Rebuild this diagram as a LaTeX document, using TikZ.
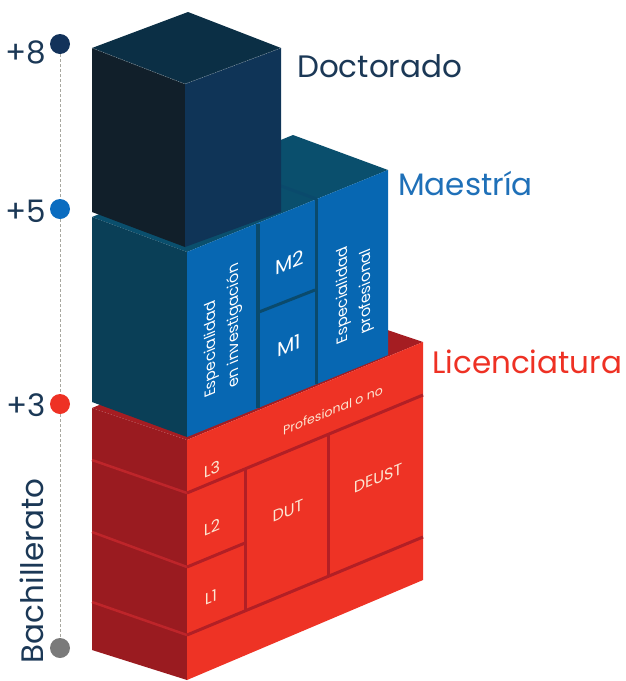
\documentclass[tikz,border=0pt]{standalone}
\usepackage{fontspec}
\setmainfont{Poppins}
\definecolor{cubeTop}{HTML}{0B2F45}
\definecolor{cubeLeft}{HTML}{111F2A}
\definecolor{cubeRight}{HTML}{0F3457}
\definecolor{maTop}{HTML}{0A4F6D}
\definecolor{maLeft}{HTML}{0A3F57}
\definecolor{maRight}{HTML}{0767B2}
\definecolor{maGroove}{HTML}{0A4A6C}
\definecolor{reRight}{HTML}{EE3325}
\definecolor{reLeft}{HTML}{9A1B20}
\definecolor{reTop}{HTML}{A51D22}
\definecolor{reGroove}{HTML}{B21F25}
\definecolor{reLeftGroove}{HTML}{BE252A}
\definecolor{navyText}{HTML}{1B3856}
\definecolor{blueText}{HTML}{1F70B8}
\definecolor{redText}{HTML}{EE3124}
\definecolor{cream}{HTML}{FCE6D2}
\definecolor{dotNavy}{HTML}{12325A}
\definecolor{dotBlue}{HTML}{0A6CC0}
\definecolor{dotGrey}{HTML}{7A7A7A}
\definecolor{axisGrey}{HTML}{A8A8A0}
\begin{document}
\begin{tikzpicture}[x=1pt,y=-1pt,
  groove/.style={line width=3pt},
  heading/.style={font=\fontsize{31}{36}\selectfont, inner sep=0pt},
  small/.style={font=\fontsize{12.5}{14}\selectfont, inner sep=0pt, text=cream},
  cell/.style={font=\fontsize{16}{18}\selectfont, inner sep=0pt, text=cream, yslant=0.41},
  mlabel/.style={font=\fontsize{20}{22}\selectfont, inner sep=0pt, text=white, yslant=0.41},
  vlabel/.style={font=\fontsize{15}{23}\selectfont, inner sep=0pt, text=white, align=left, cm={0,1,-1,-0.41,(0,0)}},
  tick/.style={circle, inner sep=0pt, minimum size=20pt},
]
\useasboundingbox (0,0) rectangle (626,681);
% ---------- axis ----------
\coordinate (a8) at (60,44);
\coordinate (a5) at (60,209);
\coordinate (a3) at (60,404);
\coordinate (a0) at (60,648);
\draw[axisGrey, line width=1pt, dash pattern=on 2.5pt off 2.5pt] (a8) -- (a0);
\node[tick, fill=dotNavy] (d8) at (a8) {};
\node[tick, fill=dotBlue] (d5) at (a5) {};
\node[tick, fill=redText] (d3) at (a3) {};
\node[tick, fill=dotGrey] (d0) at (a0) {};
\node[heading, text=navyText, anchor=base east] (t8) at (46,63) {+8};
\node[heading, text=navyText, anchor=base east] (t5) at (46,222) {+5};
\node[heading, text=navyText, anchor=base east] (t3) at (46,416) {+3};
\node[heading, text=navyText, anchor=base, rotate=90] (tb) at (43,571) {Bachillerato};
% ---------- red block (Licenciatura) ----------
\coordinate (rL) at (92,408); \coordinate (rF) at (187,440);
\coordinate (rR) at (423,342); \coordinate (rB) at (328,310);
\coordinate (rLb) at (92,650); \coordinate (rFb) at (187,680); \coordinate (rRb) at (423,580);
\fill[reTop] (rL) -- (rF) -- (rR) -- (rB) -- cycle;
\fill[reLeft] (rL) -- (rF) -- (rFb) -- (rLb) -- cycle;
\fill[reRight] (rF) -- (rR) -- (rRb) -- (rFb) -- cycle;
% left face grooves
\draw[reLeftGroove, line width=2.5pt] (92,460) -- (187,493);
\draw[reLeftGroove, line width=2.5pt] (92,532) -- (187,567);
\draw[reLeftGroove, line width=2.5pt] (92,602) -- (187,635);
% right face grooves
\draw[groove, reGroove] (187,493) -- (423,395);
\draw[groove, reGroove] (187,635) -- (423,537);
\draw[groove, reGroove] (187,567) -- (245,543);
\draw[groove, reGroove] (245,469) -- (245,611);
\draw[groove, reGroove] (328,435) -- (328,577);
% red texts
\node[small, yslant=0.41] (prof) at (333,410) {Profesional o no};
\node[cell] (l3) at (212,469) {L3};
\node[cell] (l2) at (212,527) {L2};
\node[cell] (l1) at (211,597) {L1};
\node[cell] (dut) at (288,511) {DUT};
\node[cell] (deust) at (378,478) {DEUST};
% ---------- blue block (Maestría) ----------
\coordinate (mL) at (92,217); \coordinate (mF) at (187,252);
\coordinate (mR) at (388,170); \coordinate (mB) at (293,135);
\coordinate (mLb) at (92,402); \coordinate (mFb) at (187,437); \coordinate (mRb) at (388,355);
\fill[maTop] (mL) -- (mF) -- (mR) -- (mB) -- cycle;
\fill[maLeft] (mL) -- (mF) -- (mFb) -- (mLb) -- cycle;
\fill[maRight] (mF) -- (mR) -- (mRb) -- (mFb) -- cycle;
\draw[maGroove, line width=4pt] (257.5,224) -- (257.5,408);
\draw[maGroove, line width=3.5pt] (316.5,199) -- (316.5,384);
\draw[maGroove, line width=3pt] (259,312) -- (315,290);
\draw[maGroove, line width=3pt] (316.5,199) -- (281,186);
\node[mlabel] (m2) at (290,262) {M2};
\node[mlabel] (m1) at (289,345) {M1};
\node[vlabel] (einv) at (223,330) {Especialidad\\en investigación};
\node[vlabel] (eprof) at (355,290) {Especialidad\\profesional};
% ---------- cube (Doctorado) ----------
\coordinate (cL) at (92,48); \coordinate (cT) at (188,12);
\coordinate (cR) at (281,48); \coordinate (cF) at (185,84);
\coordinate (cLb) at (92,212); \coordinate (cFb) at (185,247); \coordinate (cRb) at (281,212);
\fill[cubeTop] (cL) -- (cT) -- (cR) -- (cF) -- cycle;
\fill[cubeLeft] (cL) -- (cF) -- (cFb) -- (cLb) -- cycle;
\fill[cubeRight] (cF) -- (cR) -- (cRb) -- (cFb) -- cycle;
\draw[cubeTop!55!white, line width=0.5pt, dash pattern=on 1pt off 1pt] (cL) -- (cF) -- (cR);
% ---------- headings ----------
\node[heading, text=navyText, anchor=base west] (hd) at (297,77) {Doctorado};
\node[heading, text=blueText, anchor=base west] (hm) at (398,195) {Maestría};
\node[heading, text=redText, anchor=base west] (hl) at (432,373) {Licenciatura};
\end{tikzpicture}
\end{document}
